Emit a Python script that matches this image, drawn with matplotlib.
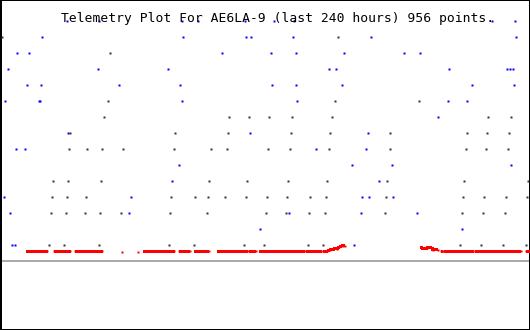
import numpy as np
import matplotlib
matplotlib.use("Agg")
import matplotlib.pyplot as plt

title = "Telemetry Plot For AE6LA-9 (last 240 hours) 956 points."

# hours (0..240) and values for grey/black telemetry points
dark_hours = [0.9, 153.1,
              49.8,
              48.9, 151.7, 189.7,
              47.1, 103.7, 112.8, 121.8, 132.2, 150.3, 221.0, 231.4,
              31.7, 79.2, 103.2, 131.8, 149.4, 176.6, 211.5, 220.5, 230.5,
              31.2, 39.4, 46.2, 55.7, 78.8, 95.5, 102.8, 121.4, 131.3, 149.0, 176.6, 211.0, 220.1, 230.0,
              24.0, 30.8, 45.7, 94.6, 111.8, 130.4, 148.1, 175.2, 210.1, 239.1,
              23.5, 30.3, 38.9, 77.4, 88.3, 94.2, 101.9, 111.4, 120.9, 130.0, 140.4, 147.6, 174.8, 209.7, 219.2, 229.1, 238.6,
              23.1, 29.9, 38.5, 45.3, 54.8, 77.0, 93.7, 120.5, 129.5, 139.9, 147.2, 174.3, 209.2, 218.7, 228.7,
              22.2, 29.0, 44.8, 76.5, 87.8, 110.5, 119.5, 139.5, 146.3, 208.3, 217.8, 227.8, 238.2]
dark_values = ([14] * 2 + [13] * 1 + [10] * 3 + [9] * 8 + [8] * 9 + [7] * 14 +
               [5] * 10 + [4] * 17 + [3] * 15 + [1] * 13)

blue_hours = [30.3, 44.8, 82.4, 89.7, 110.9, 124.1, 133.1, 222.8, 233.2,
              19.0, 82.9, 111.4, 113.7, 132.7, 168.0, 233.7,
              7.7, 13.1, 100.5, 122.7, 134.0, 155.8, 182.9,
              3.6, 44.4, 76.1, 149.0, 152.2, 203.3, 229.6, 230.9, 232.3,
              12.2, 18.6, 53.9, 81.5, 123.2, 134.0, 154.9, 213.7, 232.8,
              2.3, 17.7, 18.1, 82.4, 134.5, 202.9,
              198.3,
              30.8, 113.2,
              7.2, 11.3, 143.1, 165.7,
              81.1, 159.4, 177.5, 231.4,
              171.6,
              1.8, 59.3, 163.9, 167.1, 178.0,
              4.5, 58.4, 130.9, 188.8,
              117.7, 209.2,
              5.4, 6.8, 160.3]
blue_values = ([15] * 9 + [14] * 7 + [13] * 7 + [12] * 9 + [11] * 9 + [10] * 6 +
               [9] * 1 + [8] * 2 + [7] * 4 + [6] * 4 + [5] * 1 + [4] * 5 +
               [3] * 4 + [2] * 2 + [1] * 3)

big_blue_hours = [190.2, 211.5, 166.6, 77.9, 163.5]
big_blue_values = [13, 10, 8, 5, 3]

nan = np.nan
red_hours = [12.2, 21.3, nan, 24.5, 31.7, nan, 34.0, 46.2, nan, 55.2, nan, 62.5, nan,
             65.2, 78.8, nan, 81.1, 86.0, nan, 88.3, 94.6, nan, 98.7, 112.3, nan,
             113.2, 115.9, nan, 117.7, 131.8, nan, 132.2, 138.1, nan, 139.0, 145.4, nan,
             146.3, 148.1, 149.4, 150.8, 151.7, 152.6, 153.5, 154.4, 155.3, 156.2, nan,
             190.6, 191.1, 193.4, 194.3, 195.6, 196.0, 198.3, nan,
             199.7, 200.6, nan, 201.1, 214.2, nan, 215.1, 235.9, nan, 238.2, 240.0]
red_values = [0.62, 0.62, nan, 0.62, 0.62, nan, 0.62, 0.62, nan, 0.56, nan, 0.56, nan,
              0.62, 0.62, nan, 0.62, 0.62, nan, 0.62, 0.62, nan, 0.62, 0.62, nan,
              0.62, 0.62, nan, 0.62, 0.62, nan, 0.62, 0.62, nan, 0.62, 0.62, nan,
              0.62, 0.62, 0.69, 0.72, 0.79, 0.77, 0.86, 0.92, 0.96, 0.96, nan,
              0.89, 0.81, 0.81, 0.86, 0.81, 0.69, 0.69, nan,
              0.62, 0.62, nan, 0.62, 0.62, nan, 0.62, 0.62, nan, 0.62, 0.62]

DPI = 100
fig = plt.figure(figsize=(5.3, 3.3), dpi=DPI)
ax = fig.add_axes([0, 0, 1, 1])
ax.set_xlim(0, 240)
ax.set_ylim(-69 / 16, 261 / 16)
ax.set_xticks([])
ax.set_yticks([])
px = 72 / DPI

for side, w in [("left", 4), ("top", 2), ("right", 2), ("bottom", 3)]:
    ax.spines[side].set_linewidth(w * px)
    ax.spines[side].set_color("black")

ax.axhline(0, color="#aaaaaa", lw=2 * px, zorder=1)

rect = [(-0.5, -1), (0.5, -1), (0.5, 1), (-0.5, 1), (-0.5, -1)]
ax.plot(dark_hours, dark_values, ls="none", marker=rect, ms=2.6 * px,
        mfc="#333333", mec="none", antialiased=False, zorder=3)
ax.plot(blue_hours, blue_values, ls="none", marker=rect, ms=2.6 * px,
        mfc="#0000ff", mec="none", antialiased=False, zorder=3)
ax.plot(big_blue_hours, big_blue_values, ls="none", marker="s", ms=2.8 * px,
        mfc="#0000ff", mec="none", antialiased=False, zorder=3)
ax.plot(red_hours, red_values, color="#ff0000", lw=2 * px, solid_capstyle="butt",
        marker="s", ms=2 * px, mfc="#ff0000", mec="none", antialiased=False, zorder=4)

ax.text(61 / 530, 1 - 21.7 / 330, title, transform=ax.transAxes,
        family="DejaVu Sans Mono", fontsize=13 * px, color="black",
        ha="left", va="baseline", zorder=5)

fig.savefig("out.png", dpi=DPI, facecolor="white")
